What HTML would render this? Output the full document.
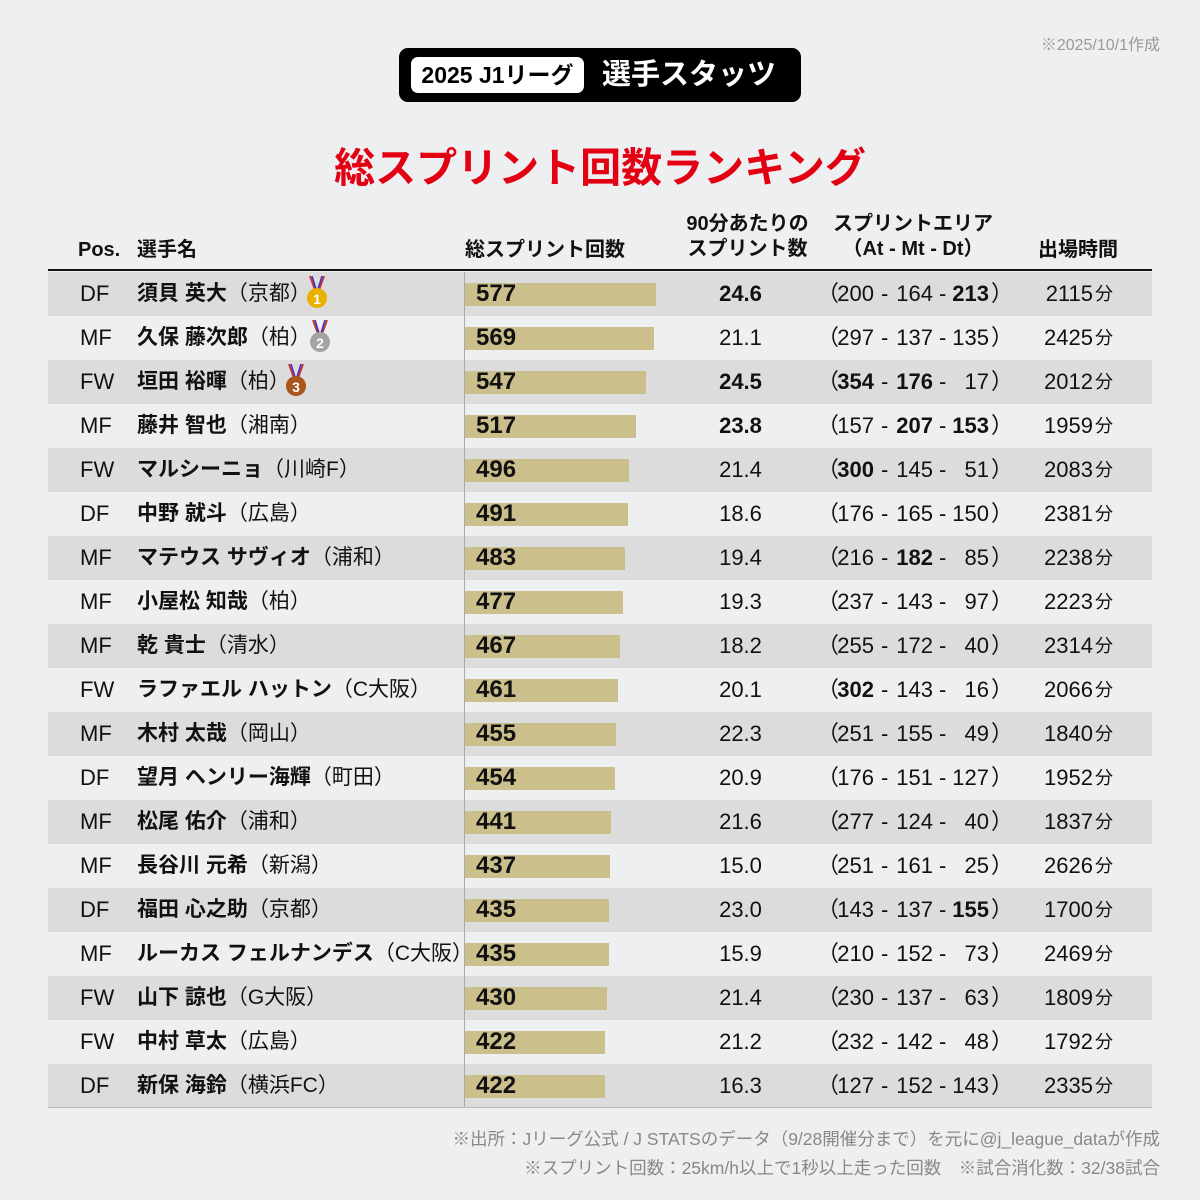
<!DOCTYPE html>
<html><head><meta charset="utf-8"><style>
*{margin:0;padding:0;box-sizing:border-box}
body{width:1200px;height:1200px;background:#eeeff1;font-family:"Liberation Sans","Noto Sans CJK JP",sans-serif;color:#111;position:relative;overflow:hidden}
.a{position:absolute;white-space:nowrap}
.row{position:absolute;left:48px;width:1104px;height:44px;font-size:22px}
.row.o{background:#dcdcdd}
.row span{position:absolute;top:0;line-height:44px;white-space:nowrap}
.pos{left:32px;width:30px}
.nm{left:89px;font-weight:bold;font-size:21px}
.nm i{font-style:normal;font-weight:normal}
.bar{left:417px;top:11px!important;height:23px;background:#cbbf8c}
.num{left:428px;font-weight:bold;font-size:24px}
.p9{left:640px;width:105px;text-align:center}
.lp{left:769px}
.n1{left:776px;width:50px;text-align:right}
.d1{left:833px}
.n2{left:835px;width:50px;text-align:right}
.d2{left:891px}
.n3{left:891px;width:50px;text-align:right}
.rp{left:943px}
.tm{left:980px;width:65px;text-align:right}
.fn{left:1047px;font-size:18px}
b{font-weight:bold}
.hd{position:absolute;top:236px;font-size:20px;font-weight:bold;line-height:28px}
</style></head><body>
<div class="a" style="right:40px;top:31px;font-size:16px;color:#999">※2025/10/1作成</div>
<div class="a" style="left:399px;top:48px;width:402px;height:54px;background:#000;border-radius:9px"></div>
<div class="a" style="left:411px;top:57px;width:173px;height:36px;background:#fff;border-radius:7px;font-size:23px;font-weight:bold;line-height:36px;text-align:center;color:#000">2025 J1リーグ</div>
<div class="a" style="left:602px;top:55px;font-size:29px;font-weight:bold;color:#fff;line-height:40px">選手スタッツ</div>
<div class="a" style="left:0;width:1200px;top:140px;text-align:center;font-size:41px;font-weight:bold;color:#e30012;line-height:56px">総スプリント回数ランキング</div>
<div class="hd" style="left:78px">Pos.</div>
<div class="hd" style="left:137px">選手名</div>
<div class="hd" style="left:465px">総スプリント回数</div>
<div class="a" style="left:680px;top:212px;width:135px;text-align:center;font-size:20px;font-weight:bold;line-height:25px">90分あたりの<br>スプリント数</div>
<div class="a" style="left:828px;top:212px;width:170px;text-align:center;font-size:20px;font-weight:bold;line-height:25px">スプリントエリア<br>（At - Mt - Dt）</div>
<div class="hd" style="left:1038px">出場時間</div>
<div class="a" style="left:48px;top:269px;width:1104px;height:2px;background:#111"></div>

<div class="row o" style="top:272px"><span class="pos">DF</span><span class="nm">須貝 英大<i>（京都）</i></span><span class="bar" style="width:191px"></span><span class="num">577</span><span class="p9"><b>24.6</b></span><span class="lp">（</span><span class="n1">200</span><span class="d1">-</span><span class="n2">164</span><span class="d2">-</span><span class="n3"><b>213</b></span><span class="rp">）</span><span class="tm">2115</span><span class="fn">分</span></div>
<div class="row" style="top:316px"><span class="pos">MF</span><span class="nm">久保 藤次郎<i>（柏）</i></span><span class="bar" style="width:189px"></span><span class="num">569</span><span class="p9">21.1</span><span class="lp">（</span><span class="n1">297</span><span class="d1">-</span><span class="n2">137</span><span class="d2">-</span><span class="n3">135</span><span class="rp">）</span><span class="tm">2425</span><span class="fn">分</span></div>
<div class="row o" style="top:360px"><span class="pos">FW</span><span class="nm">垣田 裕暉<i>（柏）</i></span><span class="bar" style="width:181px"></span><span class="num">547</span><span class="p9"><b>24.5</b></span><span class="lp">（</span><span class="n1"><b>354</b></span><span class="d1">-</span><span class="n2"><b>176</b></span><span class="d2">-</span><span class="n3">17</span><span class="rp">）</span><span class="tm">2012</span><span class="fn">分</span></div>
<div class="row" style="top:404px"><span class="pos">MF</span><span class="nm">藤井 智也<i>（湘南）</i></span><span class="bar" style="width:171px"></span><span class="num">517</span><span class="p9"><b>23.8</b></span><span class="lp">（</span><span class="n1">157</span><span class="d1">-</span><span class="n2"><b>207</b></span><span class="d2">-</span><span class="n3"><b>153</b></span><span class="rp">）</span><span class="tm">1959</span><span class="fn">分</span></div>
<div class="row o" style="top:448px"><span class="pos">FW</span><span class="nm">マルシーニョ<i>（川崎F）</i></span><span class="bar" style="width:164px"></span><span class="num">496</span><span class="p9">21.4</span><span class="lp">（</span><span class="n1"><b>300</b></span><span class="d1">-</span><span class="n2">145</span><span class="d2">-</span><span class="n3">51</span><span class="rp">）</span><span class="tm">2083</span><span class="fn">分</span></div>
<div class="row" style="top:492px"><span class="pos">DF</span><span class="nm">中野 就斗<i>（広島）</i></span><span class="bar" style="width:163px"></span><span class="num">491</span><span class="p9">18.6</span><span class="lp">（</span><span class="n1">176</span><span class="d1">-</span><span class="n2">165</span><span class="d2">-</span><span class="n3">150</span><span class="rp">）</span><span class="tm">2381</span><span class="fn">分</span></div>
<div class="row o" style="top:536px"><span class="pos">MF</span><span class="nm">マテウス サヴィオ<i>（浦和）</i></span><span class="bar" style="width:160px"></span><span class="num">483</span><span class="p9">19.4</span><span class="lp">（</span><span class="n1">216</span><span class="d1">-</span><span class="n2"><b>182</b></span><span class="d2">-</span><span class="n3">85</span><span class="rp">）</span><span class="tm">2238</span><span class="fn">分</span></div>
<div class="row" style="top:580px"><span class="pos">MF</span><span class="nm">小屋松 知哉<i>（柏）</i></span><span class="bar" style="width:158px"></span><span class="num">477</span><span class="p9">19.3</span><span class="lp">（</span><span class="n1">237</span><span class="d1">-</span><span class="n2">143</span><span class="d2">-</span><span class="n3">97</span><span class="rp">）</span><span class="tm">2223</span><span class="fn">分</span></div>
<div class="row o" style="top:624px"><span class="pos">MF</span><span class="nm">乾 貴士<i>（清水）</i></span><span class="bar" style="width:155px"></span><span class="num">467</span><span class="p9">18.2</span><span class="lp">（</span><span class="n1">255</span><span class="d1">-</span><span class="n2">172</span><span class="d2">-</span><span class="n3">40</span><span class="rp">）</span><span class="tm">2314</span><span class="fn">分</span></div>
<div class="row" style="top:668px"><span class="pos">FW</span><span class="nm">ラファエル ハットン<i>（C大阪）</i></span><span class="bar" style="width:153px"></span><span class="num">461</span><span class="p9">20.1</span><span class="lp">（</span><span class="n1"><b>302</b></span><span class="d1">-</span><span class="n2">143</span><span class="d2">-</span><span class="n3">16</span><span class="rp">）</span><span class="tm">2066</span><span class="fn">分</span></div>
<div class="row o" style="top:712px"><span class="pos">MF</span><span class="nm">木村 太哉<i>（岡山）</i></span><span class="bar" style="width:151px"></span><span class="num">455</span><span class="p9">22.3</span><span class="lp">（</span><span class="n1">251</span><span class="d1">-</span><span class="n2">155</span><span class="d2">-</span><span class="n3">49</span><span class="rp">）</span><span class="tm">1840</span><span class="fn">分</span></div>
<div class="row" style="top:756px"><span class="pos">DF</span><span class="nm">望月 ヘンリー海輝<i>（町田）</i></span><span class="bar" style="width:150px"></span><span class="num">454</span><span class="p9">20.9</span><span class="lp">（</span><span class="n1">176</span><span class="d1">-</span><span class="n2">151</span><span class="d2">-</span><span class="n3">127</span><span class="rp">）</span><span class="tm">1952</span><span class="fn">分</span></div>
<div class="row o" style="top:800px"><span class="pos">MF</span><span class="nm">松尾 佑介<i>（浦和）</i></span><span class="bar" style="width:146px"></span><span class="num">441</span><span class="p9">21.6</span><span class="lp">（</span><span class="n1">277</span><span class="d1">-</span><span class="n2">124</span><span class="d2">-</span><span class="n3">40</span><span class="rp">）</span><span class="tm">1837</span><span class="fn">分</span></div>
<div class="row" style="top:844px"><span class="pos">MF</span><span class="nm">長谷川 元希<i>（新潟）</i></span><span class="bar" style="width:145px"></span><span class="num">437</span><span class="p9">15.0</span><span class="lp">（</span><span class="n1">251</span><span class="d1">-</span><span class="n2">161</span><span class="d2">-</span><span class="n3">25</span><span class="rp">）</span><span class="tm">2626</span><span class="fn">分</span></div>
<div class="row o" style="top:888px"><span class="pos">DF</span><span class="nm">福田 心之助<i>（京都）</i></span><span class="bar" style="width:144px"></span><span class="num">435</span><span class="p9">23.0</span><span class="lp">（</span><span class="n1">143</span><span class="d1">-</span><span class="n2">137</span><span class="d2">-</span><span class="n3"><b>155</b></span><span class="rp">）</span><span class="tm">1700</span><span class="fn">分</span></div>
<div class="row" style="top:932px"><span class="pos">MF</span><span class="nm">ルーカス フェルナンデス<i>（C大阪）</i></span><span class="bar" style="width:144px"></span><span class="num">435</span><span class="p9">15.9</span><span class="lp">（</span><span class="n1">210</span><span class="d1">-</span><span class="n2">152</span><span class="d2">-</span><span class="n3">73</span><span class="rp">）</span><span class="tm">2469</span><span class="fn">分</span></div>
<div class="row o" style="top:976px"><span class="pos">FW</span><span class="nm">山下 諒也<i>（G大阪）</i></span><span class="bar" style="width:142px"></span><span class="num">430</span><span class="p9">21.4</span><span class="lp">（</span><span class="n1">230</span><span class="d1">-</span><span class="n2">137</span><span class="d2">-</span><span class="n3">63</span><span class="rp">）</span><span class="tm">1809</span><span class="fn">分</span></div>
<div class="row" style="top:1020px"><span class="pos">FW</span><span class="nm">中村 草太<i>（広島）</i></span><span class="bar" style="width:140px"></span><span class="num">422</span><span class="p9">21.2</span><span class="lp">（</span><span class="n1">232</span><span class="d1">-</span><span class="n2">142</span><span class="d2">-</span><span class="n3">48</span><span class="rp">）</span><span class="tm">1792</span><span class="fn">分</span></div>
<div class="row o" style="top:1064px"><span class="pos">DF</span><span class="nm">新保 海鈴<i>（横浜FC）</i></span><span class="bar" style="width:140px"></span><span class="num">422</span><span class="p9">16.3</span><span class="lp">（</span><span class="n1">127</span><span class="d1">-</span><span class="n2">152</span><span class="d2">-</span><span class="n3">143</span><span class="rp">）</span><span class="tm">2335</span><span class="fn">分</span></div>

<div class="a" style="left:464px;top:272px;width:1px;height:836px;background:#aaa"></div>
<div class="a" style="left:48px;top:1107px;width:1104px;height:1px;background:#bbb"></div>

<svg class="a" style="left:305px;top:276px" width="24" height="34"><path d="M5 0L10 14M19 0L14 14" stroke="#c33" stroke-width="2"/><path d="M7 0L11 13M17 0L13 13" stroke="#33c" stroke-width="1.5"/><circle cx="12" cy="22" r="10" fill="#e9b100"/><text x="12" y="28" font-size="14" font-weight="bold" fill="#fff" text-anchor="middle" font-family="Liberation Sans">1</text></svg>
<svg class="a" style="left:308px;top:320px" width="24" height="34"><path d="M5 0L10 14M19 0L14 14" stroke="#c33" stroke-width="2"/><path d="M7 0L11 13M17 0L13 13" stroke="#33c" stroke-width="1.5"/><circle cx="12" cy="22" r="10" fill="#a4a4a4"/><text x="12" y="28" font-size="14" font-weight="bold" fill="#fff" text-anchor="middle" font-family="Liberation Sans">2</text></svg>
<svg class="a" style="left:284px;top:364px" width="24" height="34"><path d="M5 0L10 14M19 0L14 14" stroke="#c33" stroke-width="2"/><path d="M7 0L11 13M17 0L13 13" stroke="#33c" stroke-width="1.5"/><circle cx="12" cy="22" r="10" fill="#a9561c"/><text x="12" y="28" font-size="14" font-weight="bold" fill="#fff" text-anchor="middle" font-family="Liberation Sans">3</text></svg>

<div class="a" style="right:40px;top:1126px;font-size:17.5px;color:#888">※出所：Jリーグ公式 / J STATSのデータ（9/28開催分まで）を元に@j_league_dataが作成</div>
<div class="a" style="right:40px;top:1155px;font-size:17.5px;color:#888">※スプリント回数：25km/h以上で1秒以上走った回数　※試合消化数：32/38試合</div>
</body></html>
